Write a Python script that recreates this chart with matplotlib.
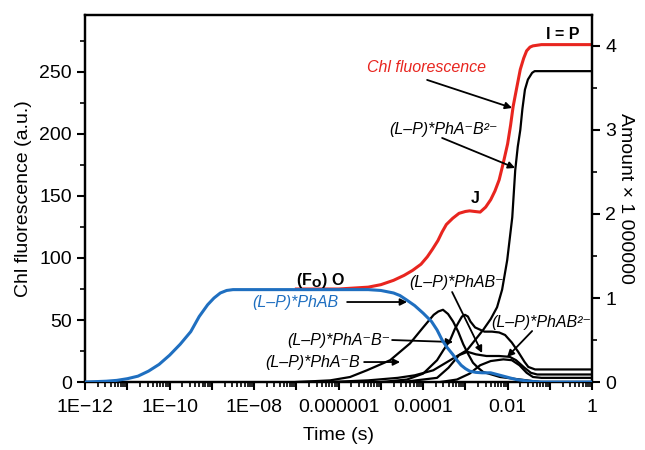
import numpy as np
import matplotlib as mpl
mpl.use('Agg')
import matplotlib.pyplot as plt
from matplotlib.ticker import FixedLocator, FuncFormatter, MultipleLocator

plt.rcParams['font.family'] = ['Liberation Sans', 'DejaVu Sans']

# log10(time) and values
# Chl fluorescence (left axis, a.u.)
red_lt = [-7, -6, -5.3, -5.0, -4.7, -4.45, -4.25, -4.05, -3.9, -3.78, -3.65, -3.55, -3.45,
          -3.3, -3.15, -3.0, -2.9, -2.78, -2.65, -2.52, -2.4, -2.3, -2.2, -2.1, -2.0,
          -1.93, -1.87, -1.78, -1.7, -1.62, -1.55, -1.47, -1.4, -1.3, -1.2, -1.0, 0]
red_val = [75, 75, 76.5, 78.5, 82, 86, 90, 95, 101, 107, 114, 121, 127,
           132, 136, 137.5, 138, 137.5, 137, 141, 147, 154, 163, 177, 192,
           207, 222, 238, 252, 261, 267, 270, 271, 271.5, 272, 272, 272]

# (L-P)*PhAB (right axis, amount)
blue_lt = [-12, -11.75, -11.5, -11.25, -11, -10.75, -10.5, -10.25, -10, -9.75, -9.5, -9.3,
           -9.1, -8.95, -8.8, -8.65, -8.5, -7, -6, -5.3, -5.0, -4.7, -4.55, -4.4, -4.2,
           -4.0, -3.9, -3.8, -3.67, -3.55, -3.43, -3.3, -3.2, -3.1, -3.0, -2.9, -2.75,
           -2.6, -2.4, -2.25, -2.1, -1.95, -1.8, -1.65, -1.5, -1.2, 0]
blue_val = [0, 0.005, 0.01, 0.02, 0.04, 0.07, 0.13, 0.21, 0.32, 0.45, 0.6, 0.78,
            0.92, 1.0, 1.06, 1.09, 1.1, 1.1, 1.1, 1.1, 1.09, 1.06, 1.03, 0.98, 0.91,
            0.82, 0.77, 0.72, 0.62, 0.5, 0.41, 0.33, 0.26, 0.2, 0.16, 0.13, 0.115,
            0.11, 0.11, 0.09, 0.07, 0.05, 0.03, 0.02, 0.01, 0, 0]

# (L-P)*PhA-B2-
b2m_lt = [-7, -6, -5.3, -4.6, -4.2, -3.76, -3.36, -2.96, -2.58, -2.4, -2.25, -2.13, -2.01,
          -1.89, -1.82, -1.76, -1.70, -1.65, -1.59, -1.52, -1.42, -1.36, -1.3, 0]
b2m_val = [0, 0.005, 0.02, 0.05, 0.08, 0.14, 0.26, 0.38, 0.62, 0.75, 0.89, 1.10, 1.45,
           1.96, 2.52, 2.8, 3.0, 3.25, 3.48, 3.6, 3.68, 3.7, 3.70, 3.70]

# (L-P)*PhA-B
pamb_lt = [-7, -6.2, -5.73, -5.33, -4.78, -4.31, -4.0, -3.75, -3.64, -3.53, -3.41, -3.29,
           -3.17, -3.05, -2.93, -2.82, -2.7, -2.58, -2.18, -1.7, -1.23, 0]
pamb_val = [0, 0.02, 0.06, 0.14, 0.26, 0.46, 0.65, 0.8, 0.84, 0.86, 0.81, 0.72,
            0.6, 0.45, 0.33, 0.23, 0.17, 0.12, 0.06, 0.03, 0.0, 0]

# (L-P)*PhA-B-
pambm_lt = [-5, -4.38, -4.0, -3.67, -3.52, -3.36, -3.25, -3.15, -3.08, -3.01, -2.94, -2.88,
            -2.77, -2.55, -2.37, -2.2, -2.06, -1.9, -1.75, -1.6, -1.51, -1.35, 0]
pambm_val = [0, 0.03, 0.1, 0.26, 0.38, 0.5, 0.63, 0.72, 0.78, 0.8, 0.78, 0.72,
             0.65, 0.6, 0.6, 0.59, 0.56, 0.47, 0.36, 0.24, 0.18, 0.15, 0.15]

# (L-P)*PhAB-
pabm_lt = [-4.5, -3.67, -3.4, -3.15, -2.95, -2.75, -2.5, -2.2, -1.95, -1.8, -1.6, -1.45, -1.3, 0]
pabm_val = [0, 0.05, 0.17, 0.32, 0.36, 0.33, 0.31, 0.31, 0.3, 0.26, 0.17, 0.11, 0.09, 0.09]

# (L-P)*PhAB2-
pab2_lt = [-3.6, -3.2, -2.9, -2.65, -2.4, -2.1, -1.9, -1.72, -1.55, -1.4, -1.2, 0]
pab2_val = [0, 0.03, 0.1, 0.2, 0.25, 0.27, 0.26, 0.2, 0.11, 0.06, 0.05, 0.05]

xtick_pos = [1e-12, 1e-10, 1e-8, 1e-6, 1e-4, 1e-2, 1]
xtick_lab = ['1E\u221212', '1E\u221210', '1E\u221208', '0.000001', '0.0001', '0.01', '1']

blue = '#1f6fc0'
red = '#e8251f'

fig = plt.figure(figsize=(6.45, 4.5), dpi=100)
ax = fig.add_axes([0.132, 0.151, 0.786, 0.816])
ax2 = ax.twinx()

t = lambda lt: 10.0 ** np.array(lt)

ax2.plot(t(b2m_lt), b2m_val, color='black', lw=1.6)
ax2.plot(t(pamb_lt), pamb_val, color='black', lw=1.6)
ax2.plot(t(pambm_lt), pambm_val, color='black', lw=1.6)
ax2.plot(t(pabm_lt), pabm_val, color='black', lw=1.6)
ax2.plot(t(pab2_lt), pab2_val, color='black', lw=1.6)
ax2.plot(t(blue_lt), blue_val, color=blue, lw=2.2, zorder=5)
ax.plot(t(red_lt), red_val, color=red, lw=2.2)
ax.set_zorder(ax2.get_zorder() - 1)
ax.patch.set_visible(False)
ax2.patch.set_visible(False)

ax.set_xscale('log')
ax.set_xlim(1e-12, 1)
ax.set_ylim(0, 296)
ax2.set_ylim(0, 4.37)

labels = dict(zip([round(np.log10(x)) for x in xtick_pos], xtick_lab))
ax.xaxis.set_major_locator(FixedLocator(10.0 ** np.arange(-12, 1)))
ax.xaxis.set_major_formatter(FuncFormatter(lambda v, p: labels.get(round(np.log10(v)), '')))
ax.xaxis.set_minor_locator(mpl.ticker.LogLocator(base=10, subs=np.arange(2, 10), numticks=100))
ax.xaxis.set_minor_formatter(mpl.ticker.NullFormatter())

ax.yaxis.set_major_locator(MultipleLocator(50))
ax.yaxis.set_minor_locator(MultipleLocator(25))
ax2.yaxis.set_major_locator(MultipleLocator(1))
ax2.yaxis.set_minor_locator(MultipleLocator(0.5))

for a in (ax, ax2):
    a.tick_params(which='major', direction='out', length=6, width=1.5, labelsize=14)
    a.tick_params(which='minor', direction='out', length=3.5, width=1.2)
    for s in a.spines.values():
        s.set_linewidth(1.6)
ax.tick_params(axis='x', pad=6)

ax.set_xlabel('Time (s)', fontsize=14, labelpad=8)
ax.set_ylabel('Chl fluorescence (a.u.)', fontsize=14, labelpad=5)
ax2.set_ylabel('Amount \u00d7 1 000000', fontsize=14, rotation=-90, labelpad=13)


def px(x, y):
    # pixel position in the reference -> data coords of the left axis
    return 10.0 ** (-12 + (x - 85) / 42.25), (382 - y) / 1.24


arrow = dict(arrowstyle='-|>', color='black', lw=1.3, mutation_scale=10, shrinkA=0, shrinkB=0)
lab = dict(fontsize=11.5, style='italic', ha='center', va='center')

ax.text(*px(563, 35), 'I = P', fontsize=11.5, fontweight='bold', ha='center', va='center')
ax.text(*px(426, 68), 'Chl fluorescence', color=red, **lab)
ax.annotate('', xy=px(512, 108), xytext=px(427, 80), arrowprops=arrow)
ax.text(*px(443, 130), '(L\u2013P)*PhA\u207bB\u00b2\u207b', **lab)
ax.annotate('', xy=px(515, 168), xytext=px(442, 138), arrowprops=arrow)
ax.text(*px(475, 199), 'J', fontsize=11.5, fontweight='bold', ha='center', va='center')
ax.text(*px(320, 280), r'(F$_\mathbf{O}$) O', fontsize=11.5, fontweight='bold', ha='center', va='center')
ax.text(*px(295, 302), '(L\u2013P)*PhAB', color=blue, **lab)
ax.annotate('', xy=px(407, 302), xytext=px(347, 302), arrowprops=arrow)
ax.text(*px(456, 282), '(L\u2013P)*PhAB\u207b', **lab)
ax.annotate('', xy=px(482, 353), xytext=px(452, 292), arrowprops=arrow)
ax.text(*px(541, 322), '(L\u2013P)*PhAB\u00b2\u207b', **lab)
ax.annotate('', xy=px(507, 357), xytext=px(532, 331), arrowprops=arrow)
ax.text(*px(339, 340), '(L\u2013P)*PhA\u207bB\u207b', **lab)
ax.annotate('', xy=px(453, 342), xytext=px(392, 340), arrowprops=arrow)
ax.text(*px(312, 362), '(L\u2013P)*PhA\u207bB', **lab)
ax.annotate('', xy=px(400, 362), xytext=px(364, 362), arrowprops=arrow)

fig.savefig('out.png', dpi=100)
